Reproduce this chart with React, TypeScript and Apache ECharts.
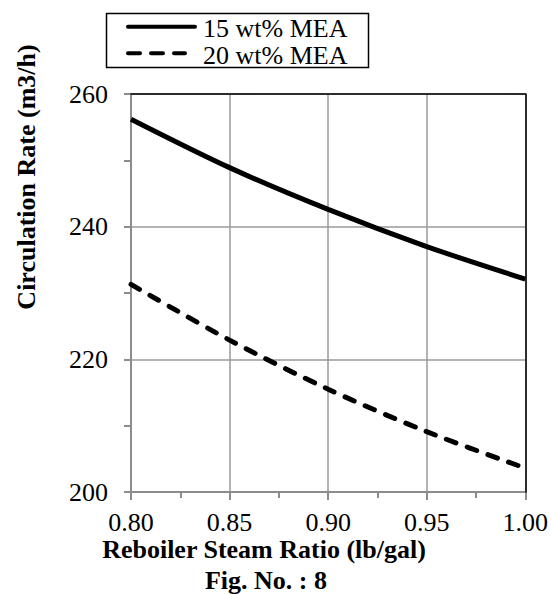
import { useEffect, useRef } from "react";
import * as echarts from "echarts";

// Reboiler steam ratio (lb/gal) on the x axis
const steamRatio = [0.8, 0.85, 0.9, 0.95, 1.0];
// Solvent circulation rate (m3/h) for each MEA concentration
const mea15 = [256.2, 248.9, 242.6, 237.0, 232.1];
const mea20 = [231.3, 222.9, 215.5, 209.1, 203.6];
const seriesNames = ["15 wt% MEA", "20 wt% MEA"];

const xTitle = "Reboiler Steam Ratio (lb/gal)";
const yTitle = "Circulation Rate (m3/h)";
const caption = "Fig. No. : 8";

const FONT = "Liberation Serif, serif";
const AXIS_GRAY = "#8c8c8c";
const GRID_GRAY = "#9a9a9a";

export default function App() {
  const ref = useRef<HTMLDivElement>(null);

  useEffect(() => {
    if (!ref.current) return;
    const chart = echarts.init(ref.current, undefined, { renderer: "svg" });

    const pairs = (ys: number[]) => steamRatio.map((x, i) => [x, ys[i]]);

    const baseAxisLabel = {
      color: "#000",
      fontSize: 26,
      fontFamily: FONT,
    };

    const textStyle = (text: string, bold: boolean, align: string) => ({
      text,
      fontFamily: FONT,
      fontSize: 26,
      fontWeight: bold ? "bold" : "normal",
      fill: "#000",
      align,
      verticalAlign: "middle",
    });

    chart.setOption({
      animation: false,
      backgroundColor: "#fff",
      grid: { left: 131, top: 94, width: 395, height: 398, show: false },
      xAxis: [
        {
          type: "value",
          min: 0.8,
          max: 1.0,
          interval: 0.05,
          axisLine: { show: true, onZero: false, lineStyle: { color: AXIS_GRAY, width: 2 } },
          axisTick: { show: true, length: 8, lineStyle: { color: AXIS_GRAY, width: 2 } },
          minorTick: { show: true, splitNumber: 2, length: 6, lineStyle: { color: AXIS_GRAY, width: 2 } },
          splitLine: { show: true, lineStyle: { color: GRID_GRAY, width: 1.5 } },
          axisLabel: { ...baseAxisLabel, margin: 17, formatter: (v: number) => v.toFixed(2) },
        },
        {
          // black frame along the top edge
          type: "value",
          position: "top",
          min: 0.8,
          max: 1.0,
          interval: 0.05,
          z: 5,
          axisLine: { show: true, onZero: false, lineStyle: { color: "#000", width: 1.5 } },
          axisTick: { show: false },
          axisLabel: { show: false },
          splitLine: { show: false },
        },
      ],
      yAxis: [
        {
          type: "value",
          min: 200,
          max: 260,
          interval: 20,
          axisLine: { show: true, onZero: false, lineStyle: { color: AXIS_GRAY, width: 2 } },
          axisTick: { show: true, length: 7, lineStyle: { color: AXIS_GRAY, width: 2 } },
          minorTick: { show: true, splitNumber: 2, length: 7, lineStyle: { color: AXIS_GRAY, width: 2 } },
          splitLine: { show: true, lineStyle: { color: GRID_GRAY, width: 1.5 } },
          axisLabel: { ...baseAxisLabel, margin: 23 },
        },
        {
          // black frame along the right edge
          type: "value",
          position: "right",
          min: 200,
          max: 260,
          interval: 20,
          z: 5,
          axisLine: { show: true, onZero: false, lineStyle: { color: "#000", width: 1.5 } },
          axisTick: { show: false },
          axisLabel: { show: false },
          splitLine: { show: false },
        },
      ],
      series: [
        {
          name: seriesNames[0],
          type: "line",
          data: pairs(mea15),
          smooth: 0.3,
          symbol: "none",
          lineStyle: { color: "#000", width: 5 },
        },
        {
          name: seriesNames[1],
          type: "line",
          data: pairs(mea20),
          smooth: 0.3,
          symbol: "none",
          lineStyle: { color: "#000", width: 5, type: [10, 12], cap: "round" },
        },
      ],
      graphic: [
        // legend box
        {
          type: "rect",
          shape: { x: 106.5, y: 13.5, width: 262, height: 54 },
          style: { fill: "#fff", stroke: "#000", lineWidth: 1.5 },
          z: 10,
        },
        {
          type: "line",
          shape: { x1: 128, y1: 26.7, x2: 195, y2: 26.7 },
          style: { stroke: "#000", lineWidth: 4, lineCap: "round" },
          z: 11,
        },
        {
          type: "line",
          shape: { x1: 128, y1: 53.3, x2: 185, y2: 53.3 },
          style: { stroke: "#000", lineWidth: 4, lineCap: "round", lineDash: [12, 11] },
          z: 11,
        },
        { type: "text", x: 203, y: 28.5, style: textStyle(seriesNames[0], false, "left"), z: 11 },
        { type: "text", x: 203, y: 55.5, style: textStyle(seriesNames[1], false, "left"), z: 11 },
        // axis titles and figure caption
        { type: "text", x: 264, y: 549, style: textStyle(xTitle, true, "center") },
        { type: "text", x: 266, y: 580, style: textStyle(caption, true, "center") },
        {
          type: "text",
          x: 26,
          y: 177,
          rotation: Math.PI / 2,
          style: textStyle(yTitle, true, "center"),
        },
      ],
    });

    return () => chart.dispose();
  }, []);

  return (
    <div
      ref={ref}
      style={{ position: "absolute", left: 0, top: 0, width: 551, height: 594 }}
    />
  );
}
